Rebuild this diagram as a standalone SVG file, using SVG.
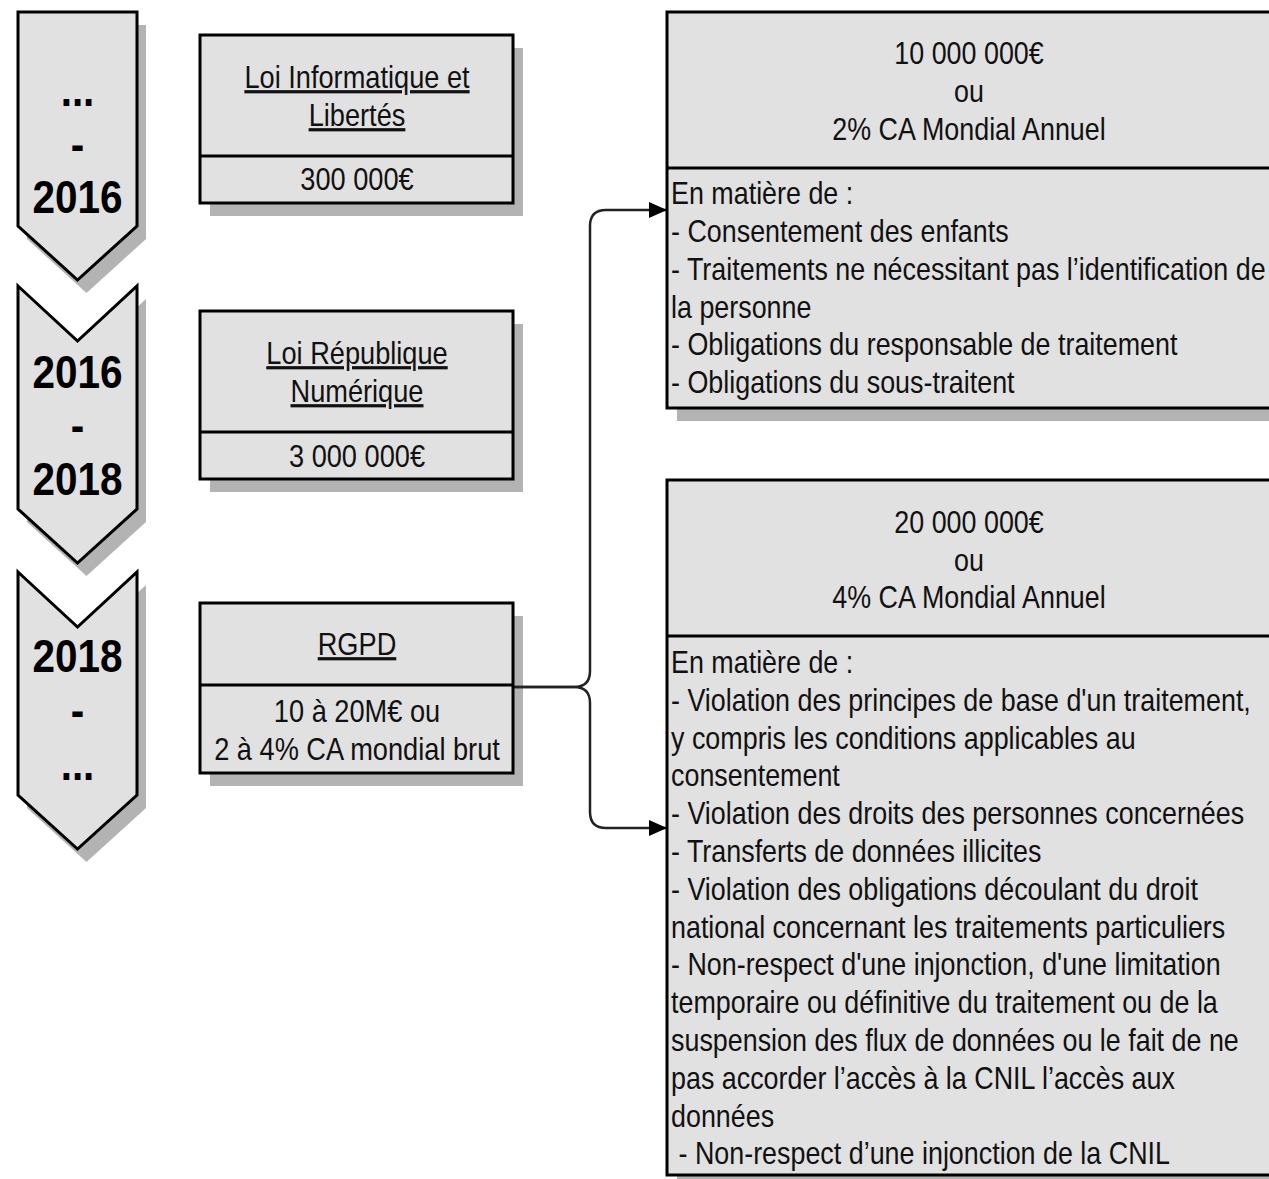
<svg xmlns="http://www.w3.org/2000/svg" width="1269" height="1179" viewBox="0 0 1269 1179">
<style>
.shape{fill:#e1e1e1;stroke:#000;stroke-width:3;stroke-linejoin:miter}
.shadow{fill:#b3b3b3;stroke:none}
.div{stroke:#000;stroke-width:3}
.t{font-family:"Liberation Sans",Arial,sans-serif;font-size:32px;fill:#111}
.c{text-anchor:middle}
.b{font-family:"Liberation Sans",Arial,sans-serif;font-size:46px;font-weight:bold;fill:#000;text-anchor:middle}
.u{text-decoration:underline}
.conn{fill:none;stroke:#222;stroke-width:2.5}
</style>
<defs>
<marker id="arr" viewBox="0 0 18 16" refX="17" refY="8" markerWidth="18" markerHeight="16" markerUnits="userSpaceOnUse" orient="auto">
<path d="M0,0 L18,8 L0,16 Z" fill="#000"/>
</marker>
</defs>
<rect width="1269" height="1179" fill="#fff"/>

<g id="shadows">
<polygon class="shadow" transform="translate(9,13)" points="18,12 137,12 137,226 77.5,280 18,226"/>
<polygon class="shadow" transform="translate(9,13)" points="18,286 77.5,341 137,286 137,509 77.5,563 18,509"/>
<polygon class="shadow" transform="translate(9,13)" points="18,572 77.5,627 137,572 137,795 77.5,849 18,795"/>
<rect class="shadow" x="210" y="48" width="313" height="168"/>
<rect class="shadow" x="210" y="324" width="313" height="168"/>
<rect class="shadow" x="210" y="616" width="313" height="170"/>
<rect class="shadow" x="677" y="25" width="604" height="396"/>
<rect class="shadow" x="677" y="493" width="604" height="695"/>
</g>

<g id="connectors">
<path class="conn" d="M513,687 H574 Q590,687 590,671 V226 Q590,210 606,210 H666" marker-end="url(#arr)"/>
<path class="conn" d="M513,687 H574 Q590,687 590,703 V812 Q590,828 606,828 H666" marker-end="url(#arr)"/>
</g>

<g id="period1">
<polygon class="shape" points="18,12 137,12 137,226 77.5,280 18,226"/>
<g transform="translate(77.5,0) scale(0.88,1)">
<text class="b" x="0" y="106">...</text>
<text class="b" x="0" y="160">-</text>
<text class="b" x="0" y="213">2016</text>
</g>
</g>
<g id="period2">
<polygon class="shape" points="18,286 77.5,341 137,286 137,509 77.5,563 18,509"/>
<g transform="translate(77.5,0) scale(0.88,1)">
<text class="b" x="0" y="388">2016</text>
<text class="b" x="0" y="441">-</text>
<text class="b" x="0" y="495">2018</text>
</g>
</g>
<g id="period3">
<polygon class="shape" points="18,572 77.5,627 137,572 137,795 77.5,849 18,795"/>
<g transform="translate(77.5,0) scale(0.88,1)">
<text class="b" x="0" y="672">2018</text>
<text class="b" x="0" y="726">-</text>
<text class="b" x="0" y="780">...</text>
</g>
</g>

<g id="loi-informatique">
<rect class="shape" x="200" y="35" width="313" height="168"/>
<line class="div" x1="200" y1="156" x2="513" y2="156"/>
<g transform="translate(357,0) scale(0.85,1)">
<text class="t c u" x="0" y="88">Loi Informatique et</text>
<text class="t c u" x="0" y="126">Libertés</text>
<text class="t c" x="0" y="190">300 000€</text>
</g>
</g>

<g id="loi-republique">
<rect class="shape" x="200" y="311" width="313" height="168"/>
<line class="div" x1="200" y1="432" x2="513" y2="432"/>
<g transform="translate(357,0) scale(0.85,1)">
<text class="t c u" x="0" y="364">Loi République</text>
<text class="t c u" x="0" y="402">Numérique</text>
<text class="t c" x="0" y="467">3 000 000€</text>
</g>
</g>

<g id="rgpd">
<rect class="shape" x="200" y="603" width="313" height="170"/>
<line class="div" x1="200" y1="685" x2="513" y2="685"/>
<g transform="translate(357,0) scale(0.85,1)">
<text class="t c u" x="0" y="655">RGPD</text>
<text class="t c" x="0" y="722">10 à 20M€ ou</text>
<text class="t c" x="0" y="760">2 à 4% CA mondial brut</text>
</g>
</g>

<g id="sanction-2pct">
<rect class="shape" x="667" y="12" width="604" height="396"/>
<line class="div" x1="667" y1="168" x2="1271" y2="168"/>
<g transform="translate(969,0) scale(0.84,1)">
<text class="t c" x="0" y="64">10 000 000€</text>
<text class="t c" x="0" y="102">ou</text>
<text class="t c" x="0" y="140">2% CA Mondial Annuel</text>
</g>
<g transform="translate(671,0) scale(0.84,1)">
<text class="t" x="0" y="204">En matière de :</text>
<text class="t" x="0" y="242">- Consentement des enfants</text>
<text class="t" x="0" y="280">- Traitements ne nécessitant pas l’identification de</text>
<text class="t" x="0" y="318">la personne</text>
<text class="t" x="0" y="355">- Obligations du responsable de traitement</text>
<text class="t" x="0" y="393">- Obligations du sous-traitent</text>
</g>
</g>

<g id="sanction-4pct">
<rect class="shape" x="667" y="480" width="604" height="695"/>
<line class="div" x1="667" y1="636" x2="1271" y2="636"/>
<g transform="translate(969,0) scale(0.84,1)">
<text class="t c" x="0" y="533">20 000 000€</text>
<text class="t c" x="0" y="571">ou</text>
<text class="t c" x="0" y="608">4% CA Mondial Annuel</text>
</g>
<g transform="translate(671,0) scale(0.84,1)">
<text class="t" x="0" y="673">En matière de :</text>
<text class="t" x="0" y="711">- Violation des principes de base d'un traitement,</text>
<text class="t" x="0" y="749">y compris les conditions applicables au</text>
<text class="t" x="0" y="786">consentement</text>
<text class="t" x="0" y="824">- Violation des droits des personnes concernées</text>
<text class="t" x="0" y="862">- Transferts de données illicites</text>
<text class="t" x="0" y="900">- Violation des obligations découlant du droit</text>
<text class="t" x="0" y="938">national concernant les traitements particuliers</text>
<text class="t" x="0" y="975">- Non-respect d'une injonction, d'une limitation</text>
<text class="t" x="0" y="1013">temporaire ou définitive du traitement ou de la</text>
<text class="t" x="0" y="1051">suspension des flux de données ou le fait de ne</text>
<text class="t" x="0" y="1089">pas accorder l’accès à la CNIL l’accès aux</text>
<text class="t" x="0" y="1127">données</text>
<text class="t" x="0" y="1164" xml:space="preserve"> - Non-respect d’une injonction de la CNIL</text>
</g>
</g>
</svg>
